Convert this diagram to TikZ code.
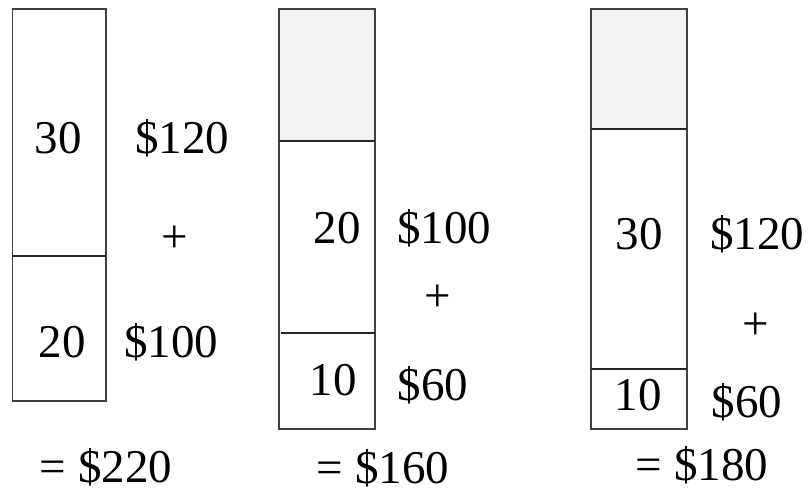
\documentclass[tikz,border=0pt]{standalone}
\usepackage{fontspec}
\setmainfont{Liberation Serif}
\definecolor{boxline}{RGB}{64,64,64}
\definecolor{lightfill}{RGB}{242,242,242}
\tikzset{
  bar/.style={draw=boxline, line width=1.4pt},
  divider/.style={draw=black!85, line width=1.4pt},
  lbl/.style={inner sep=0pt, anchor=base, font=\fontsize{47}{50}\selectfont}
}
\begin{document}
\begin{tikzpicture}[x=1pt, y=-1pt]
\useasboundingbox (0,0) rectangle (812,493);
% column 1
\draw[bar] (12.5,9) rectangle (106,401);
\draw[divider] (12.5,256) -- (106,256);
% column 2
\fill[lightfill] (279,9) rectangle (375,141);
\draw[bar] (279,9) rectangle (375,429);
\draw[divider] (279,141) -- (375,141);
\draw[divider] (281,333) -- (375,333);
% column 3
\fill[lightfill] (591,9) rectangle (687,129);
\draw[bar] (591,9) rectangle (687,429);
\draw[divider] (591,129) -- (687,129);
\draw[divider] (591,369) -- (687,369);
% labels column 1
\node[lbl] (a30) at (58,153) {30};
\node[lbl] (a120) at (182,153) {\$120};
\node[lbl, anchor=center] (aplus) at (175,239) {+};
\node[lbl] (a20) at (62,357) {20};
\node[lbl] (a100) at (171,357) {\$100};
\node[lbl] (asum) at (106,482) {= \$220};
% labels column 2
\node[lbl] (b20) at (337,243) {20};
\node[lbl] (b100) at (444,243) {\$100};
\node[lbl, anchor=center] (bplus) at (438,298) {+};
\node[lbl] (b10) at (333,395) {10};
\node[lbl] (b60) at (433,400) {\$60};
\node[lbl] (bsum) at (383,483) {= \$160};
% labels column 3
\node[lbl] (c30) at (639,249) {30};
\node[lbl] (c120) at (757,249) {\$120};
\node[lbl, anchor=center] (cplus) at (756,326) {+};
\node[lbl] (c10) at (638,410) {10};
\node[lbl] (c60) at (747,417) {\$60};
\node[lbl] (csum) at (702,480) {= \$180};
\end{tikzpicture}
\end{document}
